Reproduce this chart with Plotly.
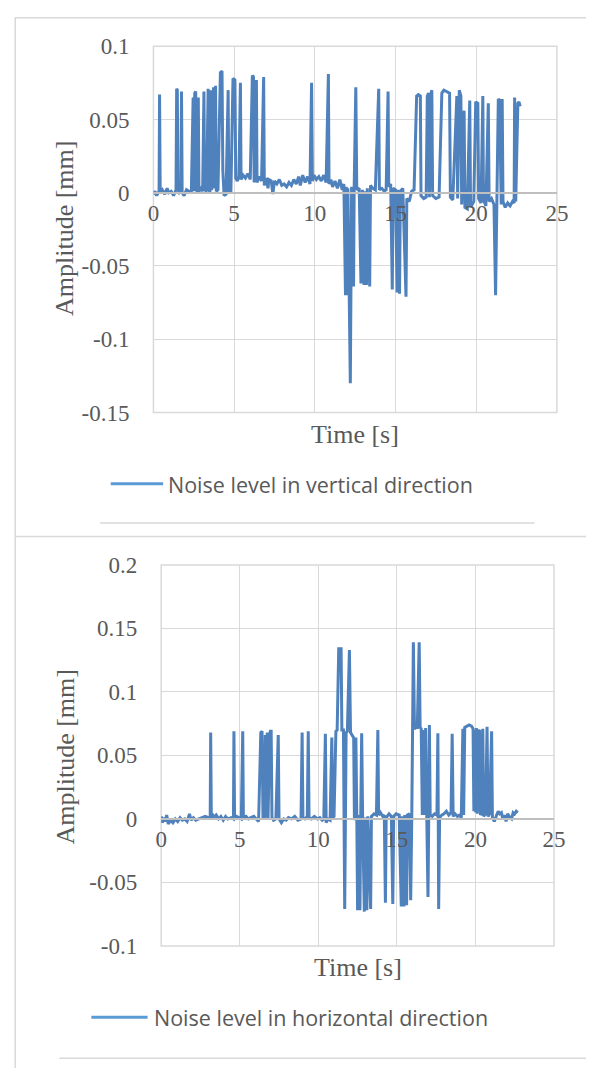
import plotly.graph_objects as go

W, H = 598, 1081

# ---------------- data ----------------
t_vertical = [
    0.00, 0.10, 0.20, 0.30, 0.35, 0.38, 0.42, 0.55, 0.70, 0.85, 0.95, 1.10, 1.25, 1.40,
    1.44, 1.48, 1.52, 1.60, 1.70, 1.74, 1.78, 1.90, 2.05, 2.20, 2.35, 2.46, 2.50, 2.56,
    2.62, 2.66, 2.74, 2.78, 2.82, 2.95, 3.05, 3.13, 3.17, 3.30, 3.39, 3.43, 3.50, 3.55,
    3.59, 3.66, 3.72, 3.78, 3.85, 3.89, 4.00, 4.15, 4.25, 4.30, 4.38, 4.50, 4.63, 4.67,
    4.80, 4.93, 5.05, 5.10, 5.20, 5.30, 5.39, 5.43, 5.55, 5.70, 5.85, 6.00, 6.13, 6.20,
    6.24, 6.30, 6.38, 6.42, 6.55, 6.70, 6.83, 6.87, 7.00, 7.10, 7.15, 7.30, 7.40, 7.50,
    7.65, 7.80, 7.95, 8.10, 8.25, 8.40, 8.55, 8.70, 8.85, 9.00, 9.10, 9.25, 9.40, 9.55,
    9.70, 9.80, 9.85, 9.95, 10.10, 10.25, 10.40, 10.55, 10.70, 10.84, 10.88, 11.00, 11.10,
    11.25, 11.40, 11.55, 11.70, 11.80, 11.90, 11.95, 12.00, 12.05, 12.20, 12.28, 12.40,
    12.44, 12.54, 12.60, 12.75, 12.86, 12.95, 13.05, 13.10, 13.20, 13.25, 13.40, 13.45,
    13.60, 13.75, 13.96, 14.00, 14.15, 14.30, 14.42, 14.54, 14.58, 14.70, 14.80, 14.85,
    15.00, 15.10, 15.15, 15.25, 15.30, 15.45, 15.65, 15.70, 15.85, 16.00, 16.15, 16.31,
    16.42, 16.54, 16.58, 16.75, 16.90, 16.97, 17.05, 17.10, 17.20, 17.25, 17.30, 17.50,
    17.70, 17.87, 18.00, 18.15, 18.35, 18.40, 18.55, 18.80, 18.85, 18.95, 19.05, 19.10,
    19.25, 19.30, 19.45, 19.60, 19.65, 19.85, 19.97, 20.10, 20.15, 20.30, 20.41, 20.45,
    20.60, 20.75, 20.80, 20.95, 21.10, 21.20, 21.30, 21.37, 21.45, 21.55, 21.61, 21.66,
    21.80, 21.95, 22.10, 22.25, 22.35, 22.38, 22.45, 22.58, 22.65, 22.72,
]
amp_vertical = [
    -0.001, 0.001, -0.002, 0.000, 0.001, 0.067, 0.000, 0.002, -0.001, 0.003, 0.000, 0.001, -0.002, 0.002,
    0.071, 0.070, 0.002, 0.000, 0.001, 0.069, 0.000, -0.002, 0.002, 0.001, 0.000, 0.065, 0.001, 0.068,
    0.069, 0.002, 0.000, 0.065, 0.001, 0.003, 0.001, 0.069, 0.002, 0.001, 0.071, 0.003, 0.000, 0.070,
    0.002, 0.004, 0.072, 0.003, 0.073, 0.001, 0.002, 0.082, 0.083, 0.015, -0.002, -0.001, 0.070, 0.001,
    0.000, 0.078, 0.077, 0.010, 0.008, 0.011, 0.075, 0.009, 0.012, 0.010, 0.013, 0.009, 0.080, 0.079,
    0.008, 0.008, 0.077, 0.007, 0.011, 0.008, 0.079, 0.005, 0.010, 0.003, 0.009, 0.008, -0.001, 0.008,
    0.006, 0.009, 0.005, 0.006, 0.004, 0.007, 0.005, 0.009, 0.006, 0.011, 0.005, 0.012, 0.007, 0.011,
    0.006, 0.075, 0.008, 0.012, 0.009, 0.011, 0.008, 0.012, 0.007, 0.081, 0.006, 0.009, 0.004,
    0.008, 0.003, 0.009, 0.002, 0.006, -0.070, 0.004, -0.070, 0.003, -0.130, 0.004, -0.064,
    0.004, 0.072, 0.002, 0.003, -0.062, 0.002, -0.063, 0.001, -0.063, 0.003, -0.064, 0.005,
    0.003, 0.002, 0.071, 0.002, 0.003, 0.001, 0.002, 0.069, 0.004, 0.006, -0.066, 0.003,
    0.002, -0.068, 0.002, -0.069, 0.001, 0.003, -0.071, -0.004, -0.006, 0.001, 0.002, 0.066,
    0.067, 0.066, -0.002, -0.004, -0.003, 0.066, 0.068, -0.003, 0.068, 0.070, -0.002, -0.004,
    -0.003, 0.068, 0.070, 0.069, 0.068, -0.003, -0.005, 0.066, -0.004, 0.070, 0.066, -0.008,
    0.056, -0.010, -0.011, 0.063, -0.010, -0.006, 0.062, 0.061, -0.004, -0.007, 0.066, -0.005,
    -0.009, 0.061, -0.006, -0.004, -0.008, -0.070, -0.005, 0.064, 0.063, -0.008, 0.064, -0.006,
    -0.010, -0.007, -0.009, -0.006, -0.007, 0.065, -0.006, 0.061, 0.062, 0.059,
]

t_horizontal = [
    0.00, 0.08, 0.15, 0.25, 0.35, 0.45, 0.60, 0.75, 0.90, 1.05, 1.20, 1.35, 1.50, 1.65, 1.80,
    1.90, 2.05, 2.20, 2.40, 2.60, 2.80, 3.00, 3.12, 3.15, 3.19, 3.25, 3.35, 3.50, 3.65, 3.80,
    3.95, 4.10, 4.25, 4.45, 4.60, 4.63, 4.67, 4.80, 4.95, 5.10, 5.19, 5.23, 5.40, 5.55, 5.70,
    5.90, 6.05, 6.20, 6.34, 6.42, 6.48, 6.56, 6.63, 6.70, 6.75, 6.80, 6.90, 6.95, 7.00, 7.05,
    7.15, 7.30, 7.45, 7.50, 7.65, 7.80, 7.95, 8.10, 8.30, 8.50, 8.70, 8.90, 8.97, 9.02, 9.15,
    9.30, 9.36, 9.41, 9.55, 9.75, 9.95, 10.10, 10.25, 10.35, 10.45, 10.50, 10.60, 10.75, 10.86,
    10.92, 11.00, 11.07, 11.12, 11.20, 11.30, 11.40, 11.45, 11.50, 11.60, 11.68, 11.77, 11.85,
    11.98, 12.05, 12.15, 12.25, 12.30, 12.39, 12.45, 12.50, 12.55, 12.65, 12.70, 12.76, 12.82,
    12.93, 13.00, 13.09, 13.15, 13.33, 13.38, 13.55, 13.70, 13.79, 13.84, 13.95, 14.10, 14.20,
    14.27, 14.32, 14.50, 14.65, 14.74, 14.80, 14.95, 15.15, 15.28, 15.33, 15.45, 15.50, 15.62,
    15.67, 15.80, 15.88, 15.95, 16.05, 16.12, 16.22, 16.30, 16.42, 16.48, 16.55, 16.62, 16.70,
    16.75, 16.83, 16.90, 16.98, 17.03, 17.07, 17.12, 17.25, 17.40, 17.55, 17.61, 17.66, 17.72,
    17.85, 18.00, 18.15, 18.30, 18.45, 18.52, 18.58, 18.70, 18.85, 19.00, 19.10, 19.20, 19.25,
    19.32, 19.45, 19.60, 19.75, 19.85, 19.90, 19.97, 20.02, 20.06, 20.12, 20.20, 20.27, 20.32,
    20.40, 20.47, 20.52, 20.65, 20.74, 20.80, 20.90, 21.03, 21.08, 21.20, 21.35, 21.45, 21.55,
    21.65, 21.75, 21.85, 21.95, 22.05, 22.20, 22.30, 22.40, 22.50, 22.60, 22.70,
]
amp_horizontal = [
    0.002, -0.003, 0.001, -0.002, 0.003, -0.004, -0.001, -0.003, 0.000, -0.002, 0.001, -0.001, 0.000, -0.002, 0.004,
    -0.001, 0.001, -0.001, 0.000, 0.001, 0.002, 0.001, 0.001, 0.068, 0.001, 0.004, 0.001, 0.003, 0.000, 0.002,
    -0.001, 0.002, 0.000, 0.001, 0.000, 0.069, 0.000, 0.002, 0.001, 0.000, 0.069, 0.001, 0.002, 0.000, 0.001,
    0.002, 0.000, -0.002, 0.068, 0.069, 0.001, 0.000, 0.066, 0.001, 0.068, 0.000, 0.066, 0.069, 0.069, 0.001,
    -0.001, 0.000, 0.066, 0.000, -0.003, 0.000, -0.001, 0.001, 0.000, 0.002, -0.001, 0.000, 0.068, 0.001, 0.000,
    0.002, 0.069, 0.001, 0.000, 0.002, 0.000, 0.001, -0.001, 0.000, 0.067, -0.003, 0.000, -0.001, 0.064,
    0.001, 0.002, 0.066, 0.069, 0.070, 0.134, 0.134, 0.134, 0.070, 0.070, -0.071, 0.068, 0.069,
    0.133, 0.068, 0.066, 0.064, -0.001, 0.064, 0.002, -0.072, 0.003, -0.072, 0.002, 0.0675, 0.002,
    -0.073, 0.001, -0.072, 0.002, -0.071, 0.002, 0.004, 0.003, 0.070, 0.003, 0.005, 0.002, 0.003,
    -0.066, 0.001, 0.004, 0.002, -0.067, 0.002, 0.004, 0.003, -0.069, 0.002, -0.069, 0.003, -0.068,
    0.003, 0.004, -0.064, 0.003, 0.139, 0.071, 0.072, 0.072, 0.139, 0.072, 0.071, 0.003, 0.070,
    0.003, 0.0715, 0.004, -0.0615, 0.004, 0.074, 0.003, 0.002, 0.004, 0.003, 0.0675, -0.071, 0.001,
    0.003, 0.004, 0.006, 0.003, 0.005, 0.067, 0.002, 0.004, 0.002, 0.003, 0.001, 0.071, 0.003,
    0.072, 0.073, 0.074, 0.073, 0.071, 0.006, 0.070, 0.005, 0.0715, 0.004, 0.069, 0.070, 0.003,
    0.005, 0.071, 0.002, 0.004, 0.0725, 0.002, 0.004, 0.069, 0.001, -0.002, 0.003, 0.006, 0.004,
    0.005, 0.000, 0.003, -0.002, 0.004, 0.001, 0.000, 0.005, 0.004, 0.006, 0.005,
]

x_ticks = [0, 5, 10, 15, 20, 25]
x_ticktext = ["0", "5", "10", "15", "20", "25"]
y1_ticks = [0.1, 0.05, 0, -0.05, -0.1, -0.15]
y1_ticktext = ["0.1", "0.05", "0", "-0.05", "-0.1", "-0.15"]
y2_ticks = [0.2, 0.15, 0.1, 0.05, 0, -0.05, -0.1]
y2_ticktext = ["0.2", "0.15", "0.1", "0.05", "0", "-0.05", "-0.1"]

legend_vertical = "Noise level in vertical direction"
legend_horizontal = "Noise level in horizontal direction"
x_title = "Time [s]"
y_title = "Amplitude [mm]"

# ---------------- styling helpers ----------------
LINE = "#4F81BD"
GRID = "#D9D9D9"
AXIS = "#BFBFBF"
TXT = "#595959"
SERIF = "Liberation Serif, Times New Roman, serif"
SANS = "Open Sans"


def px(x):
    return x / W


def py(y):
    return 1 - y / H


# plot areas in pixels (left, right, top, bottom)
P1 = (152, 568, 35, 410)
P2 = (160, 565, 566, 956)
Y1R = (-0.15, 0.1)
Y2R = (-0.1, 0.2)


def zero_pos(P, yr):
    l, r, t, b = P
    ypix = t + (yr[1] - 0) / (yr[1] - yr[0]) * (b - t)
    return py(ypix)


fig = go.Figure()
fig.add_trace(go.Scatter(x=t_vertical, y=amp_vertical, mode="lines",
                         line=dict(color=LINE, width=3), xaxis="x", yaxis="y",
                         showlegend=False))
fig.add_trace(go.Scatter(x=t_horizontal, y=amp_horizontal, mode="lines",
                         line=dict(color=LINE, width=3), xaxis="x2", yaxis="y2",
                         showlegend=False))


def tickfont():
    return dict(family=SERIF, size=23, color=TXT)


def xaxis(P, yr):
    return dict(domain=[px(P[0]), px(P[1])], range=[0, 25], tickvals=x_ticks,
                ticktext=x_ticktext, showgrid=True, gridcolor=GRID, gridwidth=1,
                zeroline=False, showline=True, linecolor=AXIS, linewidth=1.5,
                anchor="free", position=zero_pos(P, yr), ticks="",
                ticklabelstandoff=0, tickfont=tickfont(), fixedrange=True)


def yaxis(P, yr, tv, tt, anchor):
    return dict(domain=[py(P[3]), py(P[2])], range=list(yr), tickvals=tv, ticktext=tt,
                showgrid=True, gridcolor=GRID, gridwidth=1, zeroline=False,
                showline=False, ticks="", ticklabelstandoff=23, tickfont=tickfont(),
                fixedrange=True, anchor=anchor)


fig.update_layout(
    width=W, height=H, margin=dict(l=0, r=0, t=0, b=0),
    paper_bgcolor="white", plot_bgcolor="white", showlegend=False,
    xaxis=xaxis(P1, Y1R),
    yaxis=yaxis(P1, Y1R, y1_ticks, y1_ticktext, "x"),
    xaxis2=xaxis(P2, Y2R),
    yaxis2=yaxis(P2, Y2R, y2_ticks, y2_ticktext, "x2"),
)

titlefont = dict(family=SERIF, size=26, color=TXT)
legfont = dict(family=SANS, size=21.5, color=TXT)

annotations = [
    dict(text=x_title, x=px(360), y=py(433), font=titlefont),
    dict(text=y_title, x=px(61), y=py(222), textangle=-90, font=titlefont),
    dict(text=x_title, x=px(363), y=py(978), font=titlefont),
    dict(text=y_title, x=px(61), y=py(763), textangle=-90, font=titlefont),
    dict(text=legend_vertical, x=px(165), y=py(484), xanchor="left", font=legfont),
    dict(text=legend_horizontal, x=px(151), y=py(1029), xanchor="left", font=legfont),
]
for a in annotations:
    a.update(xref="paper", yref="paper", showarrow=False)
    a.setdefault("xanchor", "center")
    a.setdefault("yanchor", "middle")
fig.update_layout(annotations=annotations)


def hline(x0, x1, y, color=GRID, width=1.5, layer="above"):
    return dict(type="line", xref="paper", yref="paper", x0=px(x0), x1=px(x1),
                y0=py(y), y1=py(y), line=dict(color=color, width=width), layer=layer)


def vline(x, y0, y1, color=GRID, width=1.5):
    return dict(type="line", xref="paper", yref="paper", x0=px(x), x1=px(x),
                y0=py(y0), y1=py(y1), line=dict(color=color, width=width))


def frame(P):
    return dict(type="rect", xref="paper", yref="paper", x0=px(P[0]), x1=px(P[1]),
                y0=py(P[3]), y1=py(P[2]), line=dict(color=GRID, width=1.5), layer="below")


shapes = [
    frame(P1),
    frame(P2),
    hline(9, 598, 6),
    vline(9.5, 6, 1081),
    hline(97, 545, 523),
    hline(9, 598, 537),
    hline(55, 598, 1071),
    # legend line samples
    hline(108, 162, 483, color="#5B9BD5", width=3),
    hline(88, 146, 1029, color="#5B9BD5", width=3),
]
fig.update_layout(shapes=shapes)

fig.write_html("out.html")
